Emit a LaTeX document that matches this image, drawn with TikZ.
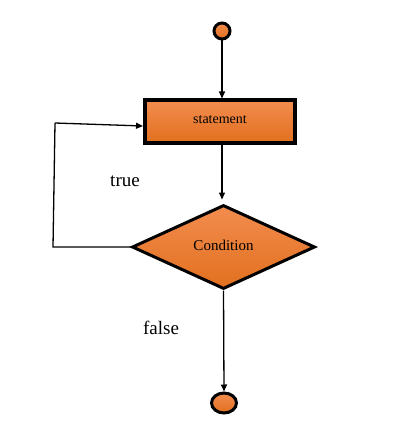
\documentclass[tikz,border=0pt]{standalone}
\usepackage{fontspec}
\setmainfont{Liberation Serif}
\usetikzlibrary{shapes.geometric,arrows.meta}
\definecolor{orgtop}{HTML}{F28C4E}
\definecolor{orgbot}{HTML}{E2701F}
\tikzset{
  orangefill/.style={top color=orgtop,bottom color=orgbot,draw=black},
  conn/.style={draw=black,line width=1.3pt,-{Triangle[length=7pt,width=6pt]}},
  plainline/.style={draw=black,line width=1.3pt},
  lbl/.style={font=\fontsize{19}{21}\selectfont}
}
\begin{document}
\begin{tikzpicture}[x=1pt,y=-1pt]
\useasboundingbox (0,0) rectangle (416,441);
\node[circle,orangefill,line width=3pt,minimum size=16pt,inner sep=0pt] (start) at (222,31) {};
\node[rectangle,orangefill,line width=4pt,minimum width=150pt,minimum height=42pt,inner sep=0pt] (stmt) at (220,121.5) {\raisebox{4pt}{\fontsize{14}{16}\selectfont statement}};
\node[diamond,orangefill,line width=3pt,minimum width=183pt,minimum height=84pt,inner sep=0pt,aspect=2.18] (cond) at (223.5,247) {\raisebox{4pt}{\fontsize{15}{17}\selectfont Condition}};
\node[ellipse,orangefill,line width=3pt,minimum width=25pt,minimum height=20pt,inner sep=0pt] (stop) at (224,403) {};
\coordinate (c1) at (53,247);
\coordinate (c2) at (55,123);
\node[lbl] (true) at (125,181) {true};
\node[lbl] (false) at (161,328) {false};
\draw[conn] (start.south) -- (start.south |- stmt.north);
\draw[conn] (stmt.south -| start) -- ([yshift=4pt]cond.north -| start);
\draw[conn] (cond.south) -- (stop.north);
\draw[plainline] (cond.west) -- (c1) -- (c2);
\draw[conn] (c2) -- ([yshift=-4.5pt]stmt.west);
\end{tikzpicture}
\end{document}
